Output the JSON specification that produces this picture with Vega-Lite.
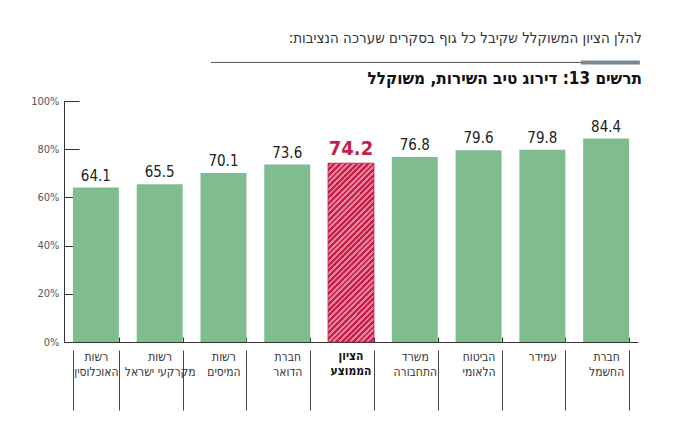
{
  "$schema": "https://vega.github.io/schema/vega-lite/v6.json",
  "width": 574,
  "height": 241,
  "autosize": {"type": "none"},
  "padding": {"left": 64, "top": 101, "right": 42, "bottom": 89},
  "background": "white",
  "config": {
    "view": {"stroke": null},
    "font": "DejaVu Sans Condensed"
  },
  "title": {
    "text": "\u200fלהלן הציון המשוקלל שקיבל כל גוף בסקרים שערכה הנציבות:\u200f",
    "subtitle": "תרשים 13: דירוג טיב השירות, משוקלל",
    "anchor": "end",
    "font": "DejaVu Sans Condensed",
    "fontSize": 15,
    "fontWeight": "normal",
    "color": "#333",
    "subtitleFont": "DejaVu Sans Condensed",
    "subtitleFontSize": 17,
    "subtitleFontWeight": "bold",
    "subtitleColor": "#111",
    "subtitlePadding": 25,
    "offset": -27
  },
  "data": {
    "values": [
      {"name": "רשות\nהאוכלוסין", "value": 64.1, "avg": false},
      {"name": "רשות\nמקרקעי ישראל", "value": 65.5, "avg": false},
      {"name": "רשות\nהמיסים", "value": 70.1, "avg": false},
      {"name": "חברת\nהדואר", "value": 73.6, "avg": false},
      {"name": "הציון\nהממוצע", "value": 74.2, "avg": true},
      {"name": "משרד\nהתחבורה", "value": 76.8, "avg": false},
      {"name": "הביטוח\nהלאומי", "value": 79.6, "avg": false},
      {"name": "עמידר", "value": 79.8, "avg": false},
      {"name": "חברת\nהחשמל", "value": 84.4, "avg": false}
    ]
  },
  "resolve": {"axis": {"x": "independent"}},
  "layer": [
    {
      "transform": [{"filter": "!datum.avg"}],
      "mark": {"type": "bar", "color": "#7fbc8f"},
      "encoding": {
        "x": {
          "field": "name",
          "type": "nominal",
          "sort": null,
          "scale": {
            "domain": ["רשות\nהאוכלוסין", "רשות\nמקרקעי ישראל", "רשות\nהמיסים", "חברת\nהדואר", "הציון\nהממוצע", "משרד\nהתחבורה", "הביטוח\nהלאומי", "עמידר", "חברת\nהחשמל"],
            "paddingInner": 0.28,
            "paddingOuter": 0.14
          },
          "axis": {
            "orient": "bottom",
            "title": null,
            "labels": false,
            "domain": true,
            "domainColor": "#333",
            "ticks": true,
            "tickBand": "extent",
            "tickSize": -5,
            "tickColor": "#333"
          }
        },
        "y": {
          "field": "value",
          "type": "quantitative",
          "scale": {"domain": [0, 100]},
          "axis": {
            "title": null,
            "values": [0, 20, 40, 60, 80, 100],
            "labelExpr": "datum.value + '%'",
            "grid": false,
            "domainColor": "#333",
            "tickColor": "#333",
            "tickSize": -15,
            "labelFontSize": 11,
            "labelColor": "#555",
            "labelPadding": 20
          }
        }
      }
    },
    {
      "transform": [{"filter": "datum.avg"}],
      "mark": {
        "type": "bar",
        "stroke": "#b81c40",
        "strokeWidth": 0.8,
        "color": {
          "gradient": "linear",
          "x1": 0, "y1": 0, "x2": 0.303, "y2": 1.179,
          "stops": [
            {"offset": 0, "color": "#c41f48"},
            {"offset": 0.0125, "color": "#c41f48"}, {"offset": 0.0125, "color": "#ea8097"},
            {"offset": 0.025, "color": "#ea8097"}, {"offset": 0.025, "color": "#c41f48"},
            {"offset": 0.0375, "color": "#c41f48"}, {"offset": 0.0375, "color": "#ea8097"},
            {"offset": 0.05, "color": "#ea8097"}, {"offset": 0.05, "color": "#c41f48"},
            {"offset": 0.0625, "color": "#c41f48"}, {"offset": 0.0625, "color": "#ea8097"},
            {"offset": 0.075, "color": "#ea8097"}, {"offset": 0.075, "color": "#c41f48"},
            {"offset": 0.0875, "color": "#c41f48"}, {"offset": 0.0875, "color": "#ea8097"},
            {"offset": 0.1, "color": "#ea8097"}, {"offset": 0.1, "color": "#c41f48"},
            {"offset": 0.1125, "color": "#c41f48"}, {"offset": 0.1125, "color": "#ea8097"},
            {"offset": 0.125, "color": "#ea8097"}, {"offset": 0.125, "color": "#c41f48"},
            {"offset": 0.1375, "color": "#c41f48"}, {"offset": 0.1375, "color": "#ea8097"},
            {"offset": 0.15, "color": "#ea8097"}, {"offset": 0.15, "color": "#c41f48"},
            {"offset": 0.1625, "color": "#c41f48"}, {"offset": 0.1625, "color": "#ea8097"},
            {"offset": 0.175, "color": "#ea8097"}, {"offset": 0.175, "color": "#c41f48"},
            {"offset": 0.1875, "color": "#c41f48"}, {"offset": 0.1875, "color": "#ea8097"},
            {"offset": 0.2, "color": "#ea8097"}, {"offset": 0.2, "color": "#c41f48"},
            {"offset": 0.2125, "color": "#c41f48"}, {"offset": 0.2125, "color": "#ea8097"},
            {"offset": 0.225, "color": "#ea8097"}, {"offset": 0.225, "color": "#c41f48"},
            {"offset": 0.2375, "color": "#c41f48"}, {"offset": 0.2375, "color": "#ea8097"},
            {"offset": 0.25, "color": "#ea8097"}, {"offset": 0.25, "color": "#c41f48"},
            {"offset": 0.2625, "color": "#c41f48"}, {"offset": 0.2625, "color": "#ea8097"},
            {"offset": 0.275, "color": "#ea8097"}, {"offset": 0.275, "color": "#c41f48"},
            {"offset": 0.2875, "color": "#c41f48"}, {"offset": 0.2875, "color": "#ea8097"},
            {"offset": 0.3, "color": "#ea8097"}, {"offset": 0.3, "color": "#c41f48"},
            {"offset": 0.3125, "color": "#c41f48"}, {"offset": 0.3125, "color": "#ea8097"},
            {"offset": 0.325, "color": "#ea8097"}, {"offset": 0.325, "color": "#c41f48"},
            {"offset": 0.3375, "color": "#c41f48"}, {"offset": 0.3375, "color": "#ea8097"},
            {"offset": 0.35, "color": "#ea8097"}, {"offset": 0.35, "color": "#c41f48"},
            {"offset": 0.3625, "color": "#c41f48"}, {"offset": 0.3625, "color": "#ea8097"},
            {"offset": 0.375, "color": "#ea8097"}, {"offset": 0.375, "color": "#c41f48"},
            {"offset": 0.3875, "color": "#c41f48"}, {"offset": 0.3875, "color": "#ea8097"},
            {"offset": 0.4, "color": "#ea8097"}, {"offset": 0.4, "color": "#c41f48"},
            {"offset": 0.4125, "color": "#c41f48"}, {"offset": 0.4125, "color": "#ea8097"},
            {"offset": 0.425, "color": "#ea8097"}, {"offset": 0.425, "color": "#c41f48"},
            {"offset": 0.4375, "color": "#c41f48"}, {"offset": 0.4375, "color": "#ea8097"},
            {"offset": 0.45, "color": "#ea8097"}, {"offset": 0.45, "color": "#c41f48"},
            {"offset": 0.4625, "color": "#c41f48"}, {"offset": 0.4625, "color": "#ea8097"},
            {"offset": 0.475, "color": "#ea8097"}, {"offset": 0.475, "color": "#c41f48"},
            {"offset": 0.4875, "color": "#c41f48"}, {"offset": 0.4875, "color": "#ea8097"},
            {"offset": 0.5, "color": "#ea8097"}, {"offset": 0.5, "color": "#c41f48"},
            {"offset": 0.5125, "color": "#c41f48"}, {"offset": 0.5125, "color": "#ea8097"},
            {"offset": 0.525, "color": "#ea8097"}, {"offset": 0.525, "color": "#c41f48"},
            {"offset": 0.5375, "color": "#c41f48"}, {"offset": 0.5375, "color": "#ea8097"},
            {"offset": 0.55, "color": "#ea8097"}, {"offset": 0.55, "color": "#c41f48"},
            {"offset": 0.5625, "color": "#c41f48"}, {"offset": 0.5625, "color": "#ea8097"},
            {"offset": 0.575, "color": "#ea8097"}, {"offset": 0.575, "color": "#c41f48"},
            {"offset": 0.5875, "color": "#c41f48"}, {"offset": 0.5875, "color": "#ea8097"},
            {"offset": 0.6, "color": "#ea8097"}, {"offset": 0.6, "color": "#c41f48"},
            {"offset": 0.6125, "color": "#c41f48"}, {"offset": 0.6125, "color": "#ea8097"},
            {"offset": 0.625, "color": "#ea8097"}, {"offset": 0.625, "color": "#c41f48"},
            {"offset": 0.6375, "color": "#c41f48"}, {"offset": 0.6375, "color": "#ea8097"},
            {"offset": 0.65, "color": "#ea8097"}, {"offset": 0.65, "color": "#c41f48"},
            {"offset": 0.6625, "color": "#c41f48"}, {"offset": 0.6625, "color": "#ea8097"},
            {"offset": 0.675, "color": "#ea8097"}, {"offset": 0.675, "color": "#c41f48"},
            {"offset": 0.6875, "color": "#c41f48"}, {"offset": 0.6875, "color": "#ea8097"},
            {"offset": 0.7, "color": "#ea8097"}, {"offset": 0.7, "color": "#c41f48"},
            {"offset": 0.7125, "color": "#c41f48"}, {"offset": 0.7125, "color": "#ea8097"},
            {"offset": 0.725, "color": "#ea8097"}, {"offset": 0.725, "color": "#c41f48"},
            {"offset": 0.7375, "color": "#c41f48"}, {"offset": 0.7375, "color": "#ea8097"},
            {"offset": 0.75, "color": "#ea8097"}, {"offset": 0.75, "color": "#c41f48"},
            {"offset": 0.7625, "color": "#c41f48"}, {"offset": 0.7625, "color": "#ea8097"},
            {"offset": 0.775, "color": "#ea8097"}, {"offset": 0.775, "color": "#c41f48"},
            {"offset": 0.7875, "color": "#c41f48"}, {"offset": 0.7875, "color": "#ea8097"},
            {"offset": 0.8, "color": "#ea8097"}, {"offset": 0.8, "color": "#c41f48"},
            {"offset": 0.8125, "color": "#c41f48"}, {"offset": 0.8125, "color": "#ea8097"},
            {"offset": 0.825, "color": "#ea8097"}, {"offset": 0.825, "color": "#c41f48"},
            {"offset": 0.8375, "color": "#c41f48"}, {"offset": 0.8375, "color": "#ea8097"},
            {"offset": 0.85, "color": "#ea8097"}, {"offset": 0.85, "color": "#c41f48"},
            {"offset": 0.8625, "color": "#c41f48"}, {"offset": 0.8625, "color": "#ea8097"},
            {"offset": 0.875, "color": "#ea8097"}, {"offset": 0.875, "color": "#c41f48"},
            {"offset": 0.8875, "color": "#c41f48"}, {"offset": 0.8875, "color": "#ea8097"},
            {"offset": 0.9, "color": "#ea8097"}, {"offset": 0.9, "color": "#c41f48"},
            {"offset": 0.9125, "color": "#c41f48"}, {"offset": 0.9125, "color": "#ea8097"},
            {"offset": 0.925, "color": "#ea8097"}, {"offset": 0.925, "color": "#c41f48"},
            {"offset": 0.9375, "color": "#c41f48"}, {"offset": 0.9375, "color": "#ea8097"},
            {"offset": 0.95, "color": "#ea8097"}, {"offset": 0.95, "color": "#c41f48"},
            {"offset": 0.9625, "color": "#c41f48"}, {"offset": 0.9625, "color": "#ea8097"},
            {"offset": 0.975, "color": "#ea8097"}, {"offset": 0.975, "color": "#c41f48"},
            {"offset": 0.9875, "color": "#c41f48"}, {"offset": 0.9875, "color": "#ea8097"},
            {"offset": 1, "color": "#ea8097"}
          ]
        }
      },
      "encoding": {
        "x": {
          "field": "name",
          "type": "nominal",
          "sort": null,
          "axis": {
            "orient": "bottom",
            "title": null,
            "offset": 8,
            "domain": false,
            "ticks": true,
            "tickBand": "extent",
            "tickSize": 60,
            "tickColor": "#444",
            "labelAngle": 0,
            "labelExpr": "indexof(datum.label, 'הממוצע') >= 0 ? '' : split(datum.label, '\\n')",
            "labelBaseline": "top",
            "labelPadding": -59,
            "labelFontSize": 12,
            "labelLineHeight": 15,
            "labelColor": "#333"
          }
        },
        "y": {"field": "value", "type": "quantitative"}
      }
    },
    {
      "transform": [{"filter": "!datum.avg"}],
      "mark": {"type": "text", "baseline": "bottom", "dy": -4, "fontSize": 15, "color": "#222"},
      "encoding": {
        "x": {"field": "name", "type": "nominal", "sort": null, "axis": null},
        "y": {"field": "value", "type": "quantitative"},
        "text": {"field": "value", "type": "quantitative", "format": ".1f"}
      }
    },
    {
      "transform": [{"filter": "datum.avg"}],
      "mark": {"type": "text", "baseline": "bottom", "dy": -4, "fontSize": 20, "fontWeight": "bold", "color": "#c41f48"},
      "encoding": {
        "x": {"field": "name", "type": "nominal", "sort": null, "axis": null},
        "y": {"field": "value", "type": "quantitative"},
        "text": {"field": "value", "type": "quantitative", "format": ".1f"}
      }
    },
    {
      "transform": [{"filter": "datum.avg"}],
      "mark": {"type": "text", "baseline": "top", "lineBreak": "\n", "lineHeight": 15, "fontSize": 12, "fontWeight": "bold", "color": "#111"},
      "encoding": {
        "x": {"field": "name", "type": "nominal", "sort": null, "axis": null},
        "y": {"datum": -3.7, "type": "quantitative"},
        "text": {"field": "name", "type": "nominal"}
      }
    },
    {
      "data": {"values": [{"from": "רשות\nהמיסים", "to": "עמידר"}]},
      "mark": {"type": "rule", "color": "#555", "strokeWidth": 1},
      "encoding": {
        "x": {"field": "from", "type": "nominal", "bandPosition": 0.228, "axis": null},
        "x2": {"field": "to", "bandPosition": 1.339},
        "y": {"datum": 116, "type": "quantitative"}
      }
    },
    {
      "data": {"values": [{"from": "עמידר", "to": "חברת\nהחשמל"}]},
      "mark": {"type": "rule", "color": "#7b8794", "strokeWidth": 4},
      "encoding": {
        "x": {"field": "from", "type": "nominal", "bandPosition": 1.339, "axis": null},
        "x2": {"field": "to", "bandPosition": 1.235},
        "y": {"datum": 116, "type": "quantitative"}
      }
    }
  ]
}
